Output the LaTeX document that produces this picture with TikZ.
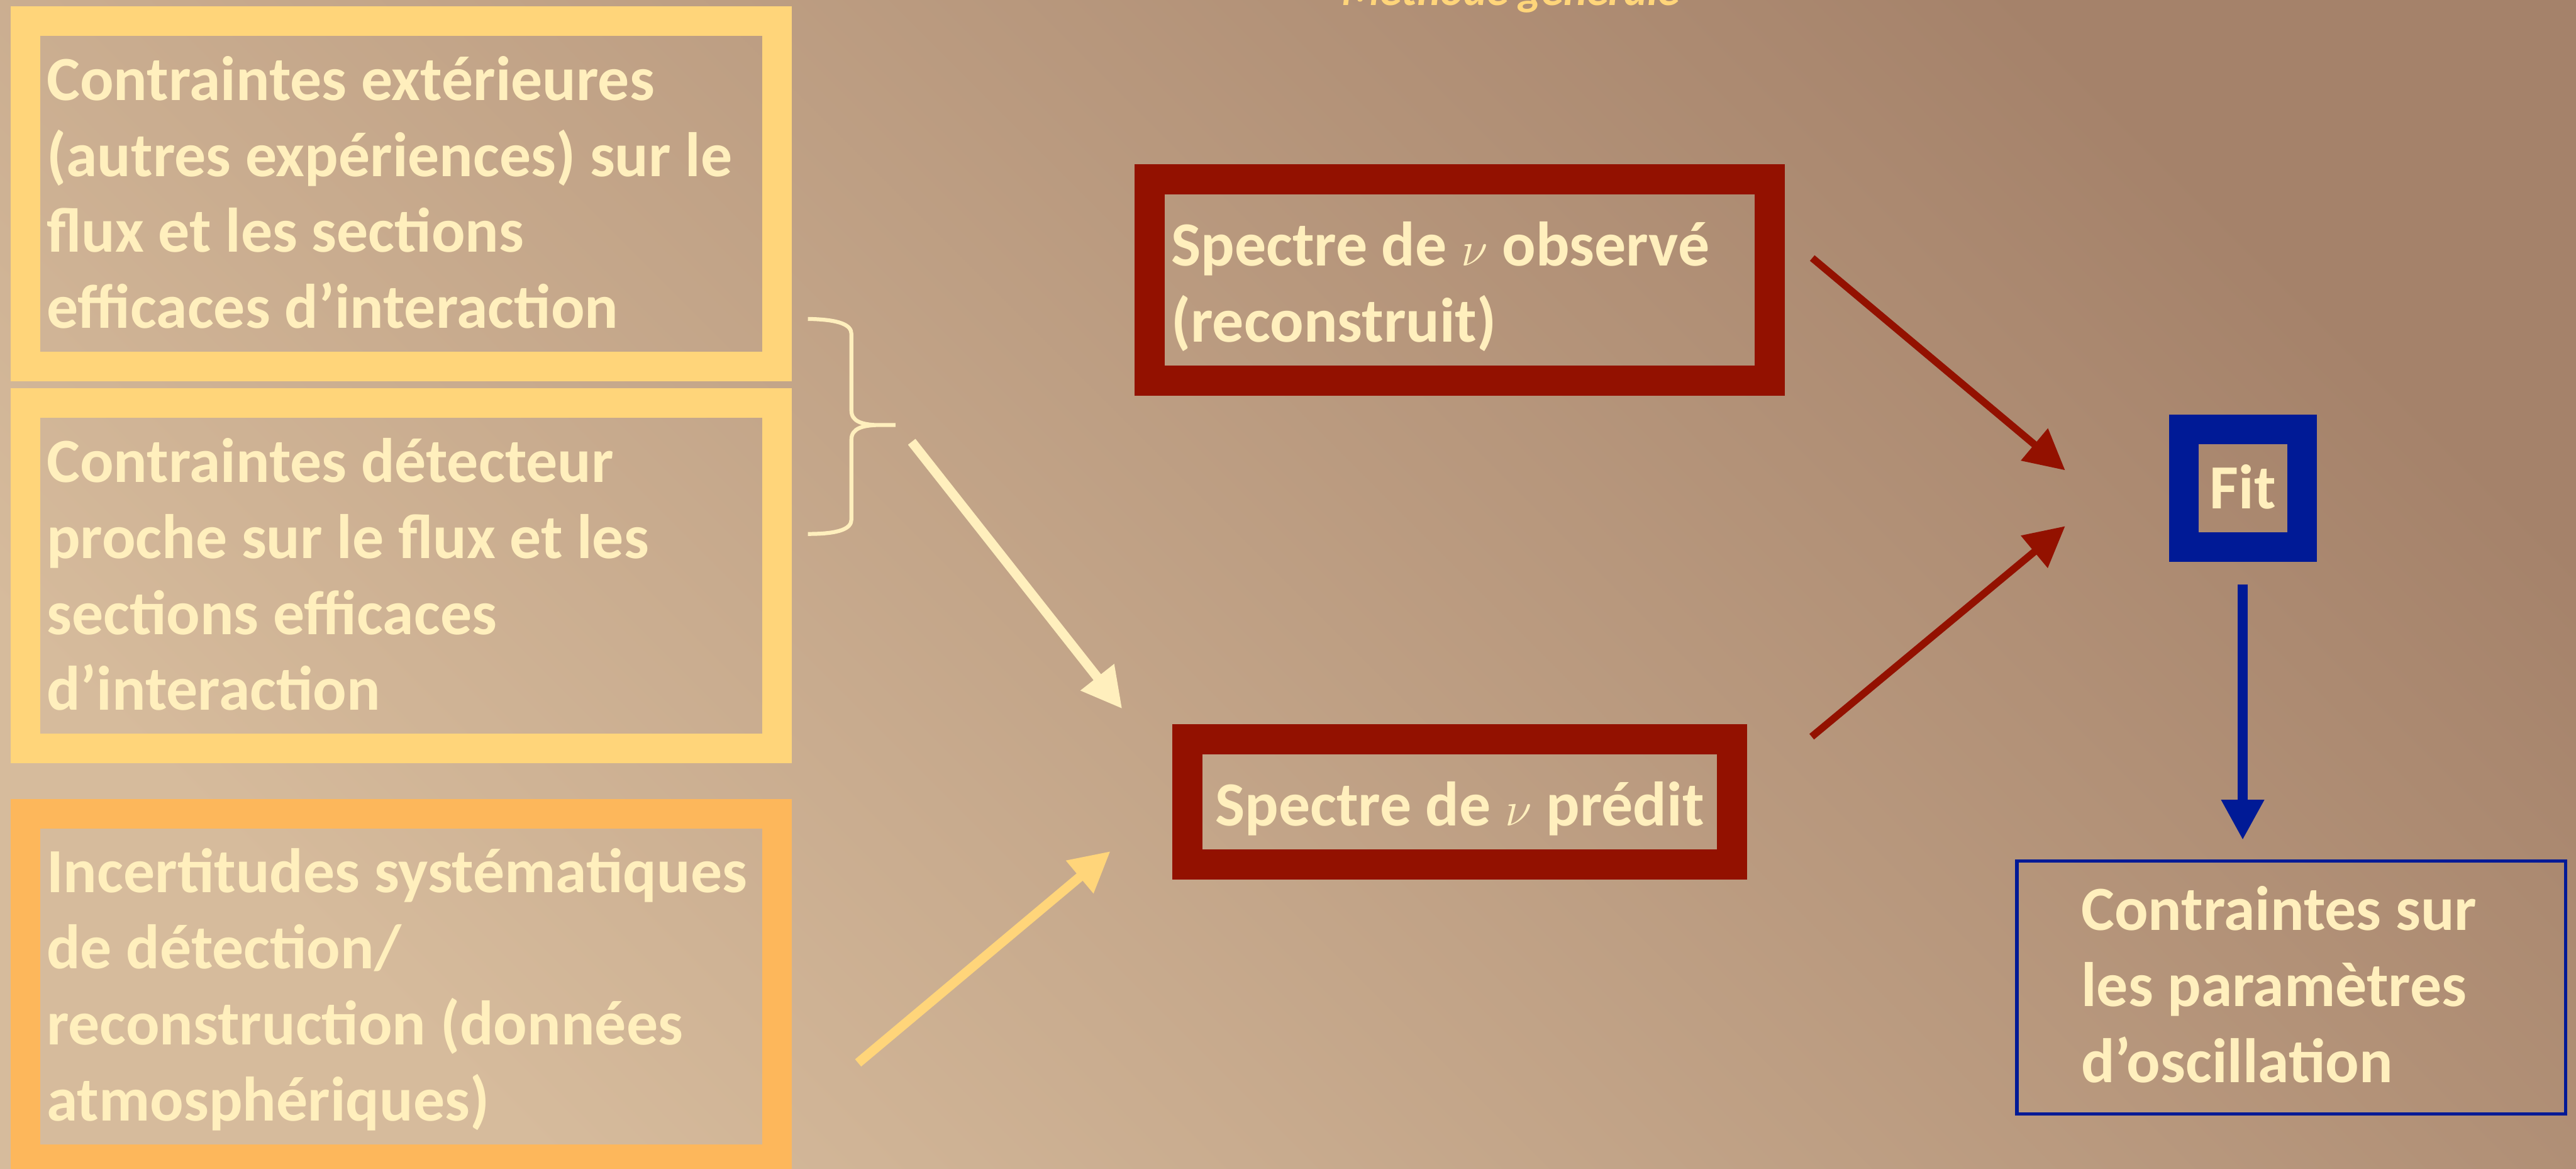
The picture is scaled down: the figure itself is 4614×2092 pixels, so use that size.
\documentclass[tikz,border=0pt]{standalone}
\usepackage{fontspec}
\setmainfont{Carlito}
\usepackage{tikz}
\usetikzlibrary{arrows.meta}
\usetikzlibrary{calc}

\definecolor{creme}{HTML}{FFEFBD}
\definecolor{jaune}{HTML}{FFD57A}
\definecolor{abricot}{HTML}{FDB75B}
\definecolor{rouge}{HTML}{931100}
\definecolor{bleu}{HTML}{001A96}
\definecolor{fondclair}{HTML}{D6BB9C}
\definecolor{fondfonce}{HTML}{A5826A}

\newcommand{\gras}{\fontsize{32}{38.7}\selectfont\bfseries}

\tikzset{
  cadre/.style={draw, inner sep=0pt, text=creme, font=\gras, align=left,
    execute at begin node={\spaceskip=0pt\xspaceskip=0pt}},
  gauche/.style={cadre, line width=0.53cm, minimum width=13.46cm,
    minimum height=6.18cm, text width=12.69cm, text height=1.02cm,
    text depth=4.37cm},
  fleche/.style={-{Triangle[length=0.72cm, width=0.72cm]}}
}

\begin{document}
\begin{tikzpicture}[x=0.01cm, y=-0.01cm]

    \shade [top color=fondfonce, bottom color=fondclair, shading angle=-45]
    (0, 0) rectangle (4614, 2092);
    \useasboundingbox (0, 0) rectangle (4614, 2092);

    \node [font=\fontsize{22.5}{27}\selectfont\bfseries\itshape, text=jaune,
    anchor=base, inner sep=0pt] (titre) at (2706, 10) {Méthode générale};

    \node [gauche, draw=jaune] (ext) at (718.5, 347)
    {Contraintes extérieures\\(autres expériences) sur le\\flux et les sections\\efficaces d’interaction};
    \node [gauche, draw=jaune] (det) at (718.5, 1031)
    {Contraintes détecteur\\proche sur le flux et les\\sections efficaces\\d’interaction};
    \node [gauche, draw=abricot] (sys) at (718.5, 1766)
    {Incertitudes systématiques\\de détection/\\reconstruction (données\\atmosphériques)};

    \node [cadre, draw=rouge, line width=0.54cm, minimum width=11.09cm,
    minimum height=3.6cm, text width=10.33cm, text height=1.16cm,
    text depth=1.66cm] (obs) at (2614.5, 501)
    {Spectre de $\nu$ observé\\(reconstruit)};
    \node [cadre, draw=rouge, line width=0.54cm, minimum width=9.74cm,
    minimum height=2.24cm, align=center, text height=1.12cm,
    text depth=0.28cm] (pred) at (2614.5, 1436)
    {Spectre de $\nu$ prédit};

    \node [cadre, draw=bleu, line width=0.53cm, minimum width=2.12cm,
    minimum height=2.1cm, align=center, text height=0.8cm,
    text depth=0.055cm] (ajust) at (4017.5, 874) {Fit};
    \node [cadre, draw=bleu, line width=0.06cm, minimum width=9.82cm,
    minimum height=4.52cm, text width=7.52cm, text height=0.98cm,
    text depth=3.02cm] (res) at (4104, 1768)
    {Contraintes sur\\les paramètres\\d’oscillation};

    \draw [creme, line width=0.07cm] (1447, 571)
    .. controls (1505, 572) and (1525, 582) .. (1525, 598) -- (1525, 735)
    .. controls (1525, 755) and (1545, 760) .. (1570, 761) -- (1604, 761)
    -- (1570, 761) .. controls (1545, 762) and (1525, 767) .. (1525, 787)
    -- (1525, 930) .. controls (1525, 946) and (1505, 956) .. (1447, 956);

    \coordinate (acc) at (1633, 791);
    \coordinate (pred-a) at (2010, 1269);
    \coordinate (sys-a) at (1537, 1903);
    \coordinate (pred-b) at (1989, 1524);
    \coordinate (obs-a) at (3246, 462);
    \coordinate (ajust-a) at (3699, 842);
    \coordinate (pred-c) at (3245, 1319);
    \coordinate (ajust-b) at (3699, 942);
    \coordinate (ajust-c) at (4017, 1046);
    \coordinate (res-a) at (4017, 1504);

    \draw [fleche, creme, line width=0.17cm] (acc) -- (pred-a);
    \draw [fleche, jaune, line width=0.17cm] (sys-a) -- (pred-b);
    \draw [fleche, rouge, line width=0.13cm] (obs-a) -- (ajust-a);
    \draw [fleche, rouge, line width=0.13cm] (pred-c) -- (ajust-b);
    \draw [fleche, bleu, line width=0.18cm] (ajust-c) -- (res-a);

\end{tikzpicture}
\end{document}
